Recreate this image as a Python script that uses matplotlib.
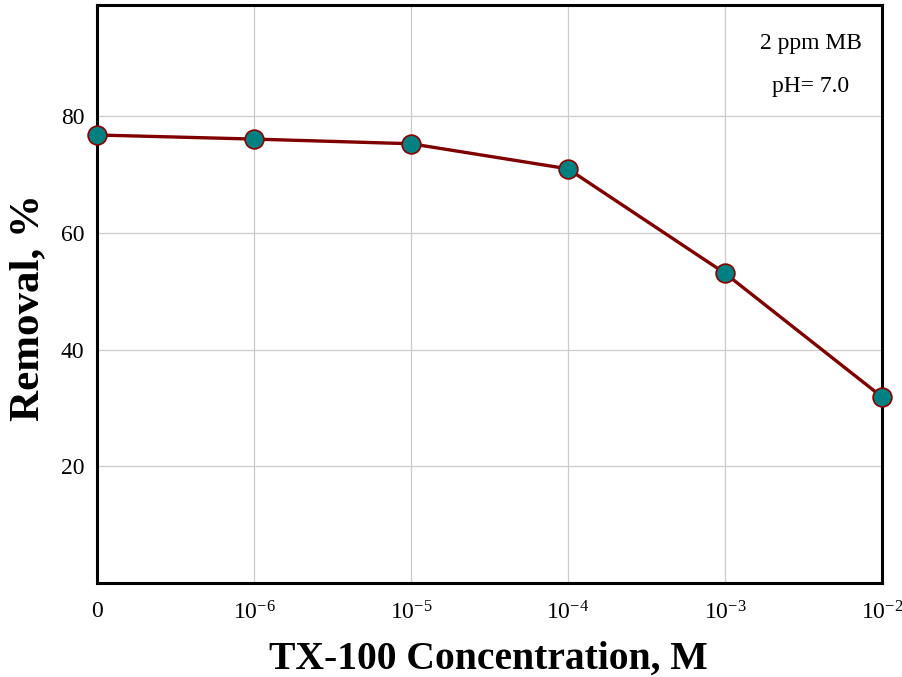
import matplotlib
matplotlib.use("Agg")
import matplotlib.pyplot as plt

# TX-100 concentration levels (M) and MB removal (%)
conc_labels = ["0", r"10$^{-6}$", r"10$^{-5}$", r"10$^{-4}$", r"10$^{-3}$", r"10$^{-2}$"]
removal = [76.8, 76.1, 75.3, 71.0, 53.1, 31.9]
y_ticks = [20, 40, 60, 80]

plt.rcParams["font.family"] = ["Liberation Serif", "DejaVu Serif"]
plt.rcParams["mathtext.fontset"] = "custom"
plt.rcParams["mathtext.rm"] = "Liberation Serif"
plt.rcParams["mathtext.it"] = "Liberation Serif:italic"
plt.rcParams["mathtext.bf"] = "Liberation Serif:bold"

fig = plt.figure(figsize=(9.02, 6.77), dpi=100)
ax = fig.add_axes([0.1075, 0.1388, 0.8703, 0.8531])

x = list(range(len(conc_labels)))
ax.plot(x, removal, color="#800000", linewidth=2.4, zorder=3, clip_on=False)
ax.plot(x, removal, linestyle="none", marker="o", markersize=13.5,
        markerfacecolor="#008080", markeredgecolor="#8b0000",
        markeredgewidth=1.2, zorder=4, clip_on=False)

ax.set_xlim(0, len(conc_labels) - 1)
ax.set_ylim(0, 99)
ax.set_xticks(x)
ax.set_xticklabels(conc_labels)
ax.set_yticks(y_ticks)

ax.grid(True, color="#cccccc", linewidth=0.9)
ax.set_axisbelow(True)
ax.tick_params(axis="both", length=0, labelsize=17, colors="black")
ax.tick_params(axis="x", pad=13)
ax.tick_params(axis="y", pad=9)

for sp in ax.spines.values():
    sp.set_linewidth(2.2)
    sp.set_color("black")

ax.set_xlabel("TX-100 Concentration, M", fontsize=28.5, fontweight="bold")
ax.set_ylabel("Removal, %", fontsize=31, fontweight="bold")
ax.xaxis.set_label_coords(0.4985, -0.100)
ax.yaxis.set_label_coords(-0.088, 0.477)
ax.yaxis.label.set_verticalalignment("center")

ax.text(0.9096, 0.935, "2 ppm MB", transform=ax.transAxes, fontsize=17,
        ha="center", va="center")
ax.text(0.9096, 0.86, "pH= 7.0", transform=ax.transAxes, fontsize=17,
        ha="center", va="center")

fig.savefig("out.png", dpi=100)
